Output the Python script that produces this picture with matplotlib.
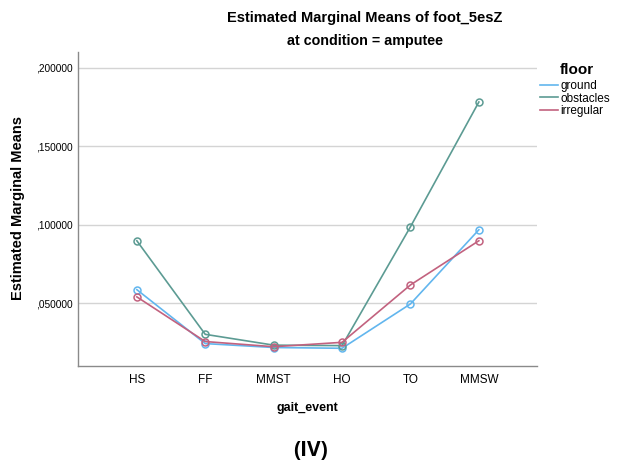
import matplotlib
matplotlib.use("Agg")
import matplotlib.pyplot as plt

plt.rcParams['font.family'] = ['Liberation Sans', 'DejaVu Sans']

events = ["HS", "FF", "MMST", "HO", "TO", "MMSW"]
ground = [0.0586, 0.0242, 0.0217, 0.0212, 0.0495, 0.0968]
obstacles = [0.0898, 0.0301, 0.0232, 0.0229, 0.0987, 0.1783]
irregular = [0.0540, 0.0255, 0.0222, 0.0250, 0.0616, 0.0898]
yticks = [0.05, 0.10, 0.15, 0.20]
ytick_labels = [",050000", ",100000", ",150000", ",200000"]

series = [("ground", ground, "#62b6ee"),
          ("obstacles", obstacles, "#5c9b93"),
          ("irregular", irregular, "#c2627f")]

W, H = 622, 466
fig = plt.figure(figsize=(W / 100, H / 100), dpi=100)
ax = fig.add_axes([78 / W, 1 - 366 / H, (537 - 78) / W, (366 - 52) / H])

x = list(range(len(events)))
for name, vals, col in series:
    ax.plot(x, vals, color=col, lw=1.2, marker='o', markersize=5,
            markerfacecolor='none', markeredgecolor=col, markeredgewidth=1.1,
            label=name, zorder=3)

ax.set_xlim(-0.86, 5.85)
ax.set_ylim(0.0099, 0.2102)
ax.set_xticks(x)
ax.set_xticklabels(events, fontsize=8.5)
ax.set_yticks(yticks)
ax.set_yticklabels(ytick_labels, fontsize=7.3)
ax.tick_params(axis='y', length=0, pad=4)
ax.tick_params(axis='x', length=0, pad=6)
ax.grid(axis='y', color='#d4d4d4', lw=1.0, zorder=0)
for s in ['top', 'right']:
    ax.spines[s].set_visible(False)
for s in ['left', 'bottom']:
    ax.spines[s].set_color('#8a8a8a')
    ax.spines[s].set_linewidth(1.0)

ax.set_xlabel("gait_event", fontsize=9, fontweight='bold', labelpad=11)

fig.text(18 / W, 1 - 208 / H, "Estimated Marginal Means", rotation=90,
         ha='center', va='center', fontsize=10.5, fontweight='bold')

fig.text(365 / W, 1 - 18 / H, "Estimated Marginal Means of foot_5esZ",
         ha='center', va='center', fontsize=10.5, fontweight='bold')
fig.text(365 / W, 1 - 41 / H, "at condition = amputee",
         ha='center', va='center', fontsize=10.3, fontweight='bold')

fig.text(560 / W, 1 - 70 / H, "floor", ha='left', va='center',
         fontsize=11, fontweight='bold')
leg = fig.legend(*ax.get_legend_handles_labels(), loc='upper left',
                 bbox_to_anchor=(540 / W, 1 - 80 / H), frameon=False,
                 fontsize=8.5, handlelength=1.5, handletextpad=0.2,
                 labelspacing=0.05, borderaxespad=0.0, borderpad=0.0)
for h in leg.get_lines():
    h.set_marker('')

fig.text(310 / W, 1 - 450 / H, "(IV)", ha='center', va='center',
         fontsize=15, fontweight='bold', family=['Open Sans', 'DejaVu Sans'])

fig.savefig("out.png", dpi=100)
